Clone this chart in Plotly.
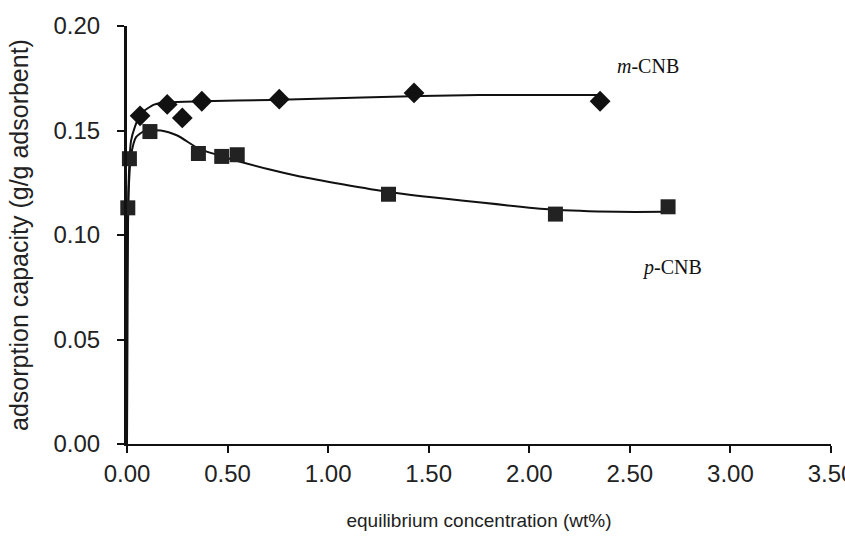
import plotly.graph_objects as go

# measured points
m_x = [0.065, 0.200, 0.275, 0.372, 0.757, 1.427, 2.352]
m_y = [0.157, 0.1625, 0.156, 0.164, 0.165, 0.168, 0.164]

p_x = [0.004, 0.012, 0.114, 0.355, 0.471, 0.548, 1.300, 2.130, 2.690]
p_y = [0.113, 0.1365, 0.1495, 0.139, 0.1376, 0.1384, 0.1195, 0.110, 0.1135]

# fitted trend curves
m_fit_x = [0, 0.002, 0.008, 0.02, 0.04, 0.068, 0.135, 0.204, 0.374, 0.71, 1.17, 1.75, 2.35]
m_fit_y = [0, 0.08, 0.125, 0.145, 0.152, 0.158, 0.1624, 0.1635, 0.164, 0.1646, 0.1658, 0.167, 0.167]

p_fit_x = [0, 0.002, 0.008, 0.02, 0.045, 0.086, 0.168, 0.25, 0.357, 0.472, 0.71, 0.86,
           1.30, 1.76, 2.11, 2.44, 2.68]
p_fit_y = [0, 0.07, 0.12, 0.138, 0.1468, 0.1497, 0.150, 0.1476, 0.1413, 0.1376, 0.1313, 0.128,
           0.1206, 0.1155, 0.1122, 0.1111, 0.1111]

x_ticks = [0, 0.5, 1.0, 1.5, 2.0, 2.5, 3.0, 3.5]
y_ticks = [0, 0.05, 0.10, 0.15, 0.20]

fig = go.Figure()
fig.add_trace(go.Scatter(x=m_fit_x, y=m_fit_y, mode="lines",
                         line=dict(color="#111", width=2, shape="spline", smoothing=0.6),
                         showlegend=False, hoverinfo="skip", cliponaxis=False))
fig.add_trace(go.Scatter(x=p_fit_x, y=p_fit_y, mode="lines",
                         line=dict(color="#111", width=2, shape="spline", smoothing=0.6),
                         showlegend=False, hoverinfo="skip", cliponaxis=False))
fig.add_trace(go.Scatter(x=m_x, y=m_y, mode="markers", name="m-CNB",
                         marker=dict(symbol="diamond", size=16, color="#111"),
                         showlegend=False, cliponaxis=False))
fig.add_trace(go.Scatter(x=p_x, y=p_y, mode="markers", name="p-CNB",
                         marker=dict(symbol="square", size=15, color="#222"),
                         showlegend=False, cliponaxis=False))

fig.add_annotation(x=2.59, y=0.181, text="<i>m</i>-CNB", showarrow=False,
                   font=dict(family="Liberation Serif, Times New Roman, serif", size=20, color="#111"))
fig.add_annotation(x=2.71, y=0.0843, text="<i>p</i>-CNB", showarrow=False,
                   font=dict(family="Liberation Serif, Times New Roman, serif", size=20, color="#111"))

sans = "Liberation Sans, Arial, sans-serif"
tick_font = dict(family=sans, size=24, color="#222")
fig.update_layout(
    width=845, height=540,
    margin=dict(l=127, r=14, t=26, b=96, autoexpand=False),
    paper_bgcolor="white", plot_bgcolor="white",
    xaxis=dict(range=[0, 3.5], tickvals=x_ticks, ticktext=[f"{v:.2f}" for v in x_ticks],
               showgrid=False, zeroline=False, showline=True, linecolor="#111", linewidth=2,
               ticks="outside", ticklen=7, tickwidth=2, tickcolor="#111", automargin=False,
               tickfont=tick_font, ticklabelstandoff=0, ticklabeloverflow="allow",
               title=dict(text="equilibrium concentration (wt%)", font=dict(family=sans, size=19, color="#222"),
                          standoff=28)),
    yaxis=dict(range=[0, 0.2], tickvals=y_ticks, ticktext=[f"{v:.2f}" for v in y_ticks],
               showgrid=False, zeroline=False, showline=True, linecolor="#111", linewidth=3,
               ticks="outside", ticklen=7, tickwidth=2, tickcolor="#111", automargin=False,
               tickfont=tick_font, ticklabelstandoff=12,
               title=dict(text="adsorption capacity (g/g adsorbent)", font=dict(family=sans, size=25, color="#222"),
                          standoff=18)),
)

fig.write_html("out.html")
